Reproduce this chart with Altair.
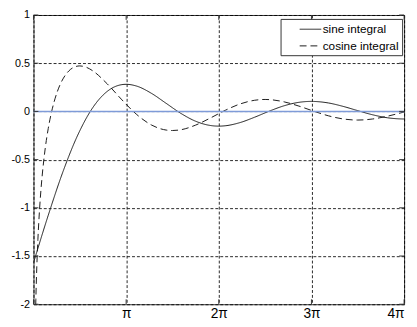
import altair as alt
import pandas as pd

# ---- data ----
series_names = ["sine integral", "cosine integral"]

si_x = [0.0, 0.5, 1.0, 1.5, 2.0, 2.5, 3.0, 3.1416, 3.5, 4.0, 4.5, 5.0, 5.5, 6.0,
        6.2832, 6.5, 7.0, 7.5, 8.0, 8.5, 9.0, 9.4248, 9.5, 10.0, 10.5, 11.0,
        11.5, 12.0, 12.5, 12.5664]
si_y = [-1.5708, -1.0777, -0.6247, -0.2461, 0.0346, 0.2077, 0.2779, 0.2811,
        0.2624, 0.1874, 0.0833, -0.0209, -0.1021, -0.1461, -0.1527, -0.1490,
        -0.1162, -0.0601, 0.0034, 0.0587, 0.0942, 0.1040, 0.1035, 0.0876,
        0.0520, 0.0075, -0.0351, -0.0658, -0.0783, -0.0786]

ci_x = [0.06, 0.08, 0.1, 0.15, 0.2, 0.25, 0.3, 0.4, 0.5, 0.6, 0.7, 0.8, 0.9,
        1.0, 1.2, 1.4, 1.5708, 1.8, 2.0, 2.5, 3.0, 3.5, 4.0, 4.5, 4.7124, 5.0,
        5.5, 6.0, 6.5, 7.0, 7.5, 7.854, 8.0, 8.5, 9.0, 9.5, 10.0, 10.5,
        10.9956, 11.5, 12.0, 12.5, 12.5664]
ci_y = [-2.2371, -1.9501, -1.7279, -1.3255, -1.0422, -0.8246, -0.6492,
        -0.3788, -0.1778, -0.0223, 0.1005, 0.1983, 0.2761, 0.3374, 0.4205,
        0.4620, 0.4720, 0.4568, 0.4230, 0.2859, 0.1196, -0.0321, -0.1410,
        -0.1935, -0.1983, -0.1900, -0.1418, -0.0681, 0.0111, 0.0767, 0.1157,
        0.1240, 0.1224, 0.0990, 0.0553, 0.0026, -0.0455, -0.0782, -0.0896,
        -0.0785, -0.0497, -0.0114, -0.0061]

zero_x = [0.0, 12.5664]
zero_y = [0.0, 0.0]

x_tick_values = [0.0, 3.1416, 6.2832, 9.4248, 12.5664]
x_tick_labels = ["", "π", "2π", "3π", "4π"]
y_tick_values = [-2, -1.5, -1, -0.5, 0, 0.5, 1]

# ---- layout / style ----
W, H = 378, 295
FONT = "Liberation Sans"

curves = pd.DataFrame({
    "x": si_x + ci_x,
    "y": si_y + ci_y,
    "series": [series_names[0]] * len(si_x) + [series_names[1]] * len(ci_x),
})
zero_df = pd.DataFrame({"x": zero_x, "y": zero_y})
xt_df = pd.DataFrame({"v": x_tick_values})
yt_df = pd.DataFrame({"v": y_tick_values})

xscale = alt.Scale(domain=[x_tick_values[0], x_tick_values[-1]], nice=False, zero=False)
yscale = alt.Scale(domain=[y_tick_values[0], y_tick_values[-1]], nice=False, zero=False)

label_list = "[" + ",".join("'%s'" % s for s in x_tick_labels) + "]"

x_axis = alt.Axis(values=x_tick_values, labelExpr=label_list + "[round(datum.value / 3.1416)]",
                  grid=True, gridDash=[3, 2], gridColor="#000", gridOpacity=0.85,
                  ticks=False, domain=False, labelFontSize=14, labelFont=FONT,
                  labelColor="#000", labelPadding=3, title=None)
y_axis = alt.Axis(values=y_tick_values, labelExpr="toString(datum.value)",
                  grid=True, gridDash=[3, 2], gridColor="#000", gridOpacity=0.85,
                  ticks=False, domain=False, labelFontSize=11, labelFont=FONT,
                  labelColor="#000", labelPadding=4, title=None)

lines = alt.Chart(curves).mark_line(color="#1a1a1a", strokeWidth=1, clip=True,
                                    interpolate="monotone").encode(
    x=alt.X("x:Q", scale=xscale, axis=x_axis),
    y=alt.Y("y:Q", scale=yscale, axis=y_axis),
    strokeDash=alt.StrokeDash(
        "series:N",
        scale=alt.Scale(domain=series_names, range=[[1, 0], [7, 4]]),
        legend=alt.Legend(title=None, orient="none", legendX=252, legendY=4,
                          fillColor="white", strokeColor="#333", padding=3,
                          symbolType="M-1.57,0H1.57", symbolSize=196,
                          symbolStrokeWidth=1, symbolFillColor="transparent",
                          symbolStrokeColor="#1a1a1a", symbolOffset=20,
                          labelFont=FONT, labelFontSize=12, labelColor="#000",
                          labelOffset=5, rowPadding=3, cornerRadius=0),
    ),
    order=alt.Order("x:Q"),
)

zero_line = alt.Chart(zero_df).mark_line(color="#7f9bd8", strokeWidth=1.5).encode(
    x=alt.X("x:Q", scale=xscale),
    y=alt.Y("y:Q", scale=yscale),
)

tick_style = dict(color="#333", strokeWidth=1)
left_ticks = alt.Chart(yt_df).mark_rule(**tick_style).encode(
    y=alt.Y("v:Q", scale=yscale), x=alt.value(0), x2=alt.value(5))
right_ticks = alt.Chart(yt_df).mark_rule(**tick_style).encode(
    y=alt.Y("v:Q", scale=yscale), x=alt.value(W - 5), x2=alt.value(W))
bottom_ticks = alt.Chart(xt_df).mark_rule(**tick_style).encode(
    x=alt.X("v:Q", scale=xscale), y=alt.value(H - 5), y2=alt.value(H))
top_ticks = alt.Chart(xt_df).mark_rule(**tick_style).encode(
    x=alt.X("v:Q", scale=xscale), y=alt.value(0), y2=alt.value(5))

chart = alt.layer(
    lines, zero_line, left_ticks, right_ticks, bottom_ticks, top_ticks
).properties(
    width=W, height=H,
    padding={"left": 26, "top": 4, "right": 5, "bottom": 16},
    autosize=alt.AutoSizeParams(type="none"),
    background="white",
).configure_view(stroke="#333", strokeWidth=1)

chart.save("out.html", embed_options={"renderer": "svg", "actions": False})
